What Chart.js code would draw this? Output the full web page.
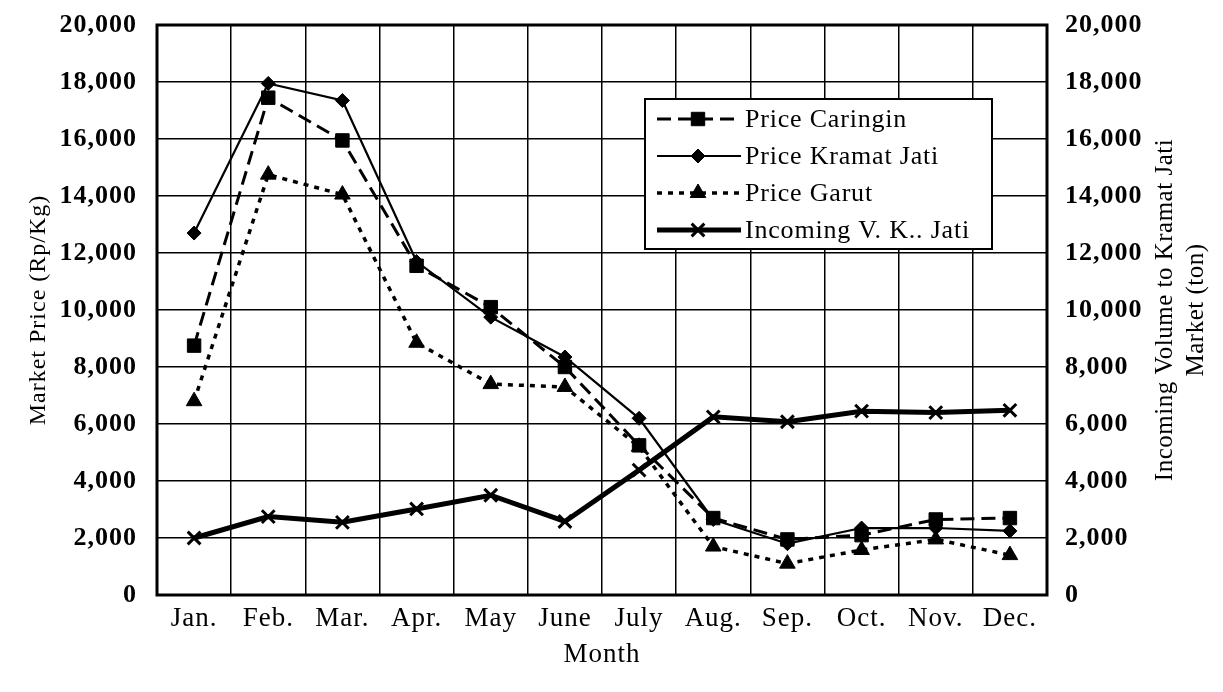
<!DOCTYPE html>
<html>
<head>
<meta charset="utf-8">
<script src="https://cdn.jsdelivr.net/npm/chart.js@4/dist/chart.umd.min.js"></script>
<style>
html,body{margin:0;padding:0;background:#fff;}
#wrap{width:1223px;height:692px;position:relative;}
</style>
</head>
<body>
<div id="wrap"><canvas id="c"></canvas></div>
<script>
// ---- data ----
const months = ['Jan.','Feb.','Mar.','Apr.','May','June','July','Aug.','Sep.','Oct.','Nov.','Dec.'];
const priceCaringin   = [8750, 17450, 15950, 11550, 10100, 8000, 5250, 2700, 1950, 2100, 2650, 2700];
const priceKramatJati = [12700, 17950, 17350, 11700, 9750, 8350, 6200, 2650, 1800, 2350, 2350, 2250];
const priceGarut      = [6800, 14750, 14050, 8850, 7400, 7300, 5200, 1700, 1100, 1580, 1950, 1400];
const incomingVolume  = [2000, 2750, 2550, 3020, 3500, 2580, 4380, 6250, 6080, 6450, 6400, 6480];
const axisMin = 0, axisMax = 20000, axisStep = 2000;
const leftTitle = 'Market Price (Rp/Kg)';
const rightTitle = ['Incoming Volume to Kramat Jati', 'Market (ton)'];
const xTitle = 'Month';
const seriesNames = ['Price Caringin', 'Price Kramat Jati', 'Price Garut', 'Incoming V. K.. Jati'];

const SERIF = '"Liberation Serif", "Times New Roman", serif';
const fmt = v => Number(v).toLocaleString('en-US');
const noPad = s => { s.paddingTop = 0; s.paddingBottom = 0; s.paddingLeft = 0; s.paddingRight = 0; };

const frame = {
  id: 'frame',
  beforeDraw(chart) {
    chart.ctx.letterSpacing = '1px';
  },
  beforeDatasetsDraw(chart) {
    const {ctx, chartArea: a} = chart;
    ctx.save();
    ctx.strokeStyle = '#000';
    ctx.lineWidth = 3;
    ctx.strokeRect(a.left, a.top, a.right - a.left, a.bottom - a.top);
    ctx.restore();
  },
  afterDraw(chart) {
    const {ctx, chartArea: a} = chart;
    // right axis title, reading bottom to top
    ctx.save();
    ctx.letterSpacing = '0.5px';
    ctx.fillStyle = '#000';
    ctx.font = '25px ' + SERIF;
    ctx.textAlign = 'center';
    ctx.textBaseline = 'middle';
    const cy = (a.top + a.bottom) / 2;
    const xs = [a.right + 118, a.right + 149];
    rightTitle.forEach((t, i) => {
      ctx.save();
      ctx.translate(xs[i], cy);
      ctx.rotate(-Math.PI / 2);
      ctx.fillText(t, 0, 0);
      ctx.restore();
    });
    ctx.restore();

    // legend inside plot
    const lx = a.left + 488, ly = a.top + 74, lw = 347, lh = 150;
    ctx.save();
    ctx.letterSpacing = '0.8px';
    ctx.fillStyle = '#fff';
    ctx.fillRect(lx, ly, lw, lh);
    ctx.strokeStyle = '#000';
    ctx.lineWidth = 2;
    ctx.strokeRect(lx, ly, lw, lh);
    ctx.font = '26px ' + SERIF;
    ctx.textBaseline = 'middle';
    ctx.textAlign = 'left';
    chart.data.datasets.forEach((ds, i) => {
      const y = ly + 20 + i * 37;
      ctx.save();
      ctx.strokeStyle = '#000';
      ctx.lineWidth = ds.borderWidth;
      ctx.setLineDash(ds.borderDash || []);
      ctx.beginPath();
      ctx.moveTo(lx + 12, y);
      ctx.lineTo(lx + 96, y);
      ctx.stroke();
      ctx.setLineDash([]);
      ctx.fillStyle = '#000';
      ctx.lineWidth = ds.pointBorderWidth || 1;
      Chart.helpers.drawPoint(ctx, {pointStyle: ds.pointStyle, radius: ds.pointRadius, borderWidth: ds.pointBorderWidth || 1, rotation: 0}, lx + 53, y);
      ctx.restore();
      ctx.fillStyle = '#000';
      ctx.fillText(ds.label, lx + 100, y + 1);
    });
    ctx.restore();
    ctx.letterSpacing = '0px';
  }
};

new Chart(document.getElementById('c'), {
  type: 'line',
  data: {
    labels: months,
    datasets: [
      {label: seriesNames[0], data: priceCaringin, yAxisID: 'y', borderColor: '#000', backgroundColor: '#000',
       borderWidth: 3, borderDash: [14, 7], pointStyle: 'rect', pointRadius: 9.5, pointBorderWidth: 1, tension: 0},
      {label: seriesNames[1], data: priceKramatJati, yAxisID: 'y', borderColor: '#000', backgroundColor: '#000',
       borderWidth: 2.2, pointStyle: 'rectRot', pointRadius: 7, pointBorderWidth: 1, tension: 0},
      {label: seriesNames[2], data: priceGarut, yAxisID: 'y', borderColor: '#000', backgroundColor: '#000',
       borderWidth: 3.5, borderDash: [5, 6], pointStyle: 'triangle', pointRadius: 9, pointBorderWidth: 1, tension: 0},
      {label: seriesNames[3], data: incomingVolume, yAxisID: 'y1', borderColor: '#000', backgroundColor: '#000',
       borderWidth: 5, pointStyle: 'crossRot', pointRadius: 9, pointBorderWidth: 3, tension: 0}
    ]
  },
  options: {
    responsive: true,
    maintainAspectRatio: false,
    animation: false,
    layout: {padding: {top: 25, left: 0, right: 0, bottom: 0}},
    plugins: {legend: {display: false}, tooltip: {enabled: false}},
    scales: {
      x: {
        type: 'category',
        offset: true,
        grid: {offset: true, color: '#000', lineWidth: 1.5, drawTicks: false},
        border: {display: false},
        ticks: {color: '#000', padding: 8, font: {family: SERIF, size: 27}, maxRotation: 0, autoSkip: false},
        title: {display: true, text: xTitle, color: '#000', font: {family: SERIF, size: 27}, padding: {top: 0, bottom: 21}},
        afterFit(s) { s.height = 97; noPad(s); }
      },
      y: {
        position: 'left',
        min: axisMin, max: axisMax,
        grid: {color: '#000', lineWidth: 1.5, drawTicks: false},
        border: {display: false},
        ticks: {stepSize: axisStep, color: '#000', padding: 20, font: {family: SERIF, size: 26, weight: 'bold'}, callback: fmt},
        title: {display: true, text: leftTitle, color: '#000', font: {family: SERIF, size: 24}, padding: {top: 24}},
        afterFit(s) { s.width = 157; noPad(s); }
      },
      y1: {
        position: 'right',
        min: axisMin, max: axisMax,
        grid: {display: false, drawTicks: false},
        border: {display: false},
        ticks: {stepSize: axisStep, color: '#000', padding: 18, font: {family: SERIF, size: 26, weight: 'bold'}, callback: fmt},
        afterFit(s) { s.width = 176; noPad(s); }
      }
    }
  },
  plugins: [frame]
});
</script>
</body>
</html>
